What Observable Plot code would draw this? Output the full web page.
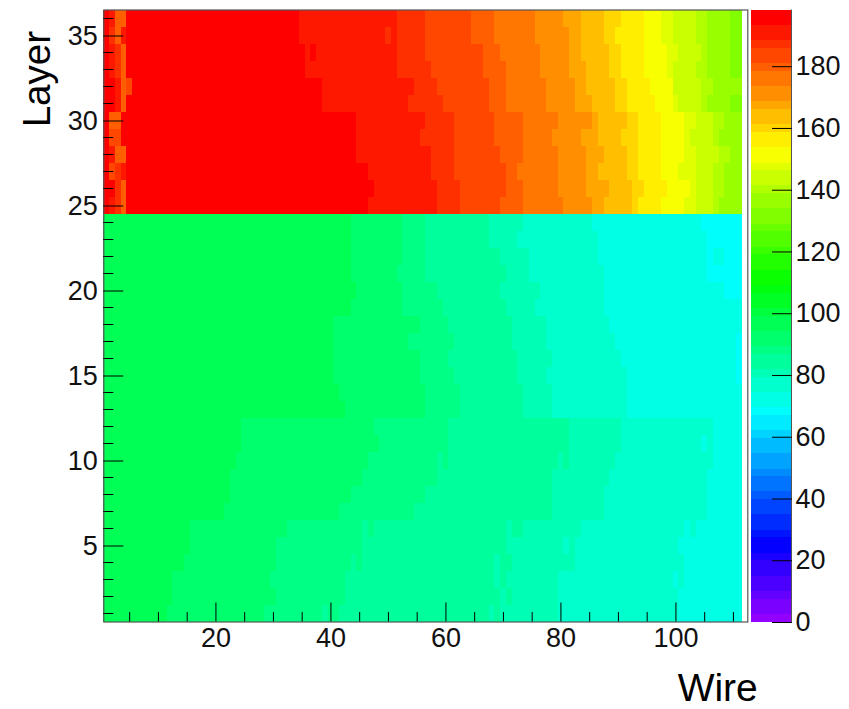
<!DOCTYPE html>
<html><head><meta charset="utf-8">
<script src="https://cdn.jsdelivr.net/npm/d3@7"></script>
<script src="https://cdn.jsdelivr.net/npm/@observablehq/plot@0.6"></script>
<style>html,body{margin:0;padding:0;background:#fff}#wrap{position:relative;width:849px;height:709px;overflow:hidden}#wrap svg{position:absolute;top:0}</style>
</head><body><div id="wrap"></div>
<script>
// Each layer: flat pairs of (first wire of a run, value of that run); a run lasts until the next one, the last until wire 111.
const layer36=[1,196,2,191,3,179.5,5,196,35,191,52,187,57,183,65,179.5,69,176,76,171,81,167,84,163.5,88,160,91,156,95,151,98,147.5,100,144,104,140,106,136,110,131];
const layer35=[1,196,2,187,3,179.5,4,191,5,196,35,191,50,187,51,191,52,187,57,183,65,179.5,69,176,76,171,82,167,84,163.5,88,160,90,156,95,151,98,147.5,100,144,104,140,106,136,110,131];
const layer34=[1,196,2,191,3,187,4,179.5,5,196,36,191,37,196,38,191,52,187,57,183,67,179.5,70,176,77,171,82,167,84,163.5,89,160,91,156,95,151,99,147.5,101,144,105,140,106,136,110,131];
const layer33=[1,196,2,191,3,187,4,179.5,5,196,36,191,52,187,58,183,67,179.5,71,176,77,171,82,167,85,163.5,89,160,91,156,95,151,99,147.5,100,144,104,140,106,136,110,131];
const layer32=[1,196,3,191,4,179.5,5,183,6,196,39,191,55,187,59,183,68,179.5,71,176,78,171,83,167,85,163.5,90,160,92,156,96,151,100,144,105,140,107,136];
const layer31=[1,196,3,191,4,179.5,5,196,39,191,54,187,60,183,68,179.5,71,176,78,171,83,167,86,163.5,90,160,92,156,97,151,100,147.5,101,144,105,140,106,136,110,131];
const layer30=[1,196,2,179.5,4,196,45,191,57,187,62,183,69,179.5,74,176,80,171,86,167,87,163.5,92,160,94,156,98,151,102,147.5,104,144,107,140,109,136];
const layer29=[1,196,2,183,4,196,45,191,56,187,62,183,69,179.5,74,176,79,171,84,167,87,163.5,91,160,94,156,98,151,102,147.5,103,144,107,140,108,136];
const layer28=[1,196,2,191,3,179.5,5,196,45,191,58,187,62,183,70,179.5,74,176,80,171,85,167,88,163.5,92,160,94,156,98,151,102,147.5,104,144,108,140,110,136];
const layer27=[1,196,2,183,3,187,4,191,5,196,47,191,58,187,62,183,71,179.5,73,176,80,171,85,167,87,163.5,92,160,94,156,98,151,101,147.5,104,144,107,140,109,136];
const layer26=[1,196,3,187,4,179.5,5,196,48,191,59,187,63,183,71,179.5,74,176,80,171,85,167,89,163.5,93,160,95,156,99,151,103,147.5,104,144,107,140,109,136];
const layer25=[1,196,2,191,3,187,4,179.5,5,196,47,191,59,187,63,183,70,179.5,74,176,81,171,86,167,88,163.5,93,160,94,156,98,151,102,147.5,104,144,107,140,108,136];
const layer24=[1,96.5,44,91.5,53,88,57,84,68,80.5,74,77,86,72,105,68];
const layer23=[1,96.5,44,91.5,53,88,57,84,68,80.5,73,77,87,72,106,68];
const layer22=[1,96.5,44,91.5,53,88,57,84,70,80.5,75,77,87,72,106,68,107,72,109,68];
const layer21=[1,96.5,44,91.5,52,88,57,84,71,80.5,75,77,88,72,106,68];
const layer20=[1,96.5,45,91.5,53,88,59,84,70,80.5,77,77,88,72,109,68];
const layer19=[1,96.5,44,91.5,53,88,60,84,71,80.5,76,77,88,72];
const layer18=[1,96.5,41,91.5,56,88,61,84,72,80.5,78,77,89,72];
const layer17=[1,96.5,41,91.5,54,88,62,84,72,80.5,78,77,90,72,111,68];
const layer16=[1,96.5,41,91.5,56,88,61,84,73,80.5,79,77,91,72,111,68];
const layer15=[1,96.5,41,91.5,56,88,62,84,73,80.5,78,77,92,72,111,68];
const layer14=[1,96.5,42,91.5,57,88,63,84,74,80.5,79,77,92,72];
const layer13=[1,96.5,43,91.5,57,88,63,84,74,80.5,79,77,92,72];
const layer12=[1,96.5,25,91.5,48,88,61,84,82,80.5,91,77,107,72];
const layer11=[1,96.5,25,91.5,49,88,61,84,82,80.5,91,77,105,72,106,77,107,72];
const layer10=[1,96.5,24,91.5,47,88,59,84,60,88,61,84,80,80.5,81,84,82,80.5,90,77,107,72];
const layer9=[1,96.5,23,91.5,46,88,59,84,79,80.5,89,77,106,72];
const layer8=[1,96.5,23,91.5,44,88,57,84,79,80.5,88,77,106,72];
const layer7=[1,96.5,22,91.5,42,88,55,84,79,80.5,88,77,106,72];
const layer6=[1,96.5,16,91.5,33,88,46,84,47,88,48,84,71,80.5,72,84,74,80.5,84,77,102,72,103,77,104,72];
const layer5=[1,96.5,16,91.5,31,88,46,84,71,80.5,81,77,82,80.5,83,77,101,72];
const layer4=[1,96.5,15,91.5,31,88,44,84,45,88,46,84,69,80.5,70,84,72,80.5,83,77,102,72];
const layer3=[1,96.5,13,91.5,30,88,43,84,69,80.5,70,84,71,80.5,80,77,100,72,101,77,102,72];
const layer2=[1,96.5,13,91.5,31,88,43,84,70,80.5,71,84,72,80.5,80,77,101,72];
const layer1=[1,96.5,12,91.5,29,88,39,84,40,88,42,84,68,80.5,69,84,70,80.5,80,77,101,72];
const layers=[layer1,layer2,layer3,layer4,layer5,layer6,layer7,layer8,layer9,layer10,layer11,layer12,layer13,layer14,layer15,layer16,layer17,layer18,layer19,layer20,layer21,layer22,layer23,layer24,layer25,layer26,layer27,layer28,layer29,layer30,layer31,layer32,layer33,layer34,layer35,layer36];

const lastWire=111, zMax=198.2, nContours=80, nColors=50;
const wireMajor=[20,40,60,80,100];
const wireMinor=[5,10,15,25,30,35,45,50,55,65,70,75,85,90,95,105,110];
const layerMajor=[5,10,15,20,25,30,35];
const layerMinor=[1,2,3,4,6,7,8,9,11,12,13,14,16,17,18,19,21,22,23,24,26,27,28,29,31,32,33,34,36];
const zTicks=[0,20,40,60,80,100,120,140,160,180];

// Runs table for the library
const runs=[];
layers.forEach((row,i)=>{
  for(let j=0;j<row.length;j+=2){
    const next=j+2<row.length?row[j+2]:lastWire+1;
    runs.push({layer:i+1,first:row[j],last:next-1,value:row[j+1]});
  }
});
// ROOT "pretty" palette: 50 hues shared by 80 contours
const step=zMax/nContours;
const edges=d3.range(1,nContours).map(k=>k*step);
const colors=d3.range(nContours).map(k=>{
  const c=Math.floor((k+0.99)*nColors/nContours);
  return d3.hsl(280-(c+1)*5.6,1,0.5).formatHex();
});
const bands=d3.range(nContours).map(k=>({lo:k*step,hi:(k+1)*step,mid:(k+0.5)*step}));
const colorScale={type:"threshold",domain:edges,range:colors};
const font="'Liberation Sans',Arial,sans-serif";
const tickColor="#000", frameColor="#555";

const main=Plot.plot({
  width:849,height:709,
  marginLeft:103.3,marginRight:101.7,marginTop:9.5,marginBottom:87.5,
  style:{fontFamily:font,background:"transparent"},
  x:{domain:[0.5,112.5]},
  y:{domain:[0.5,36.5]},
  color:colorScale,
  marks:[
    Plot.rect(runs,{x1:d=>d.first-0.5,x2:d=>d.last+0.5,y1:d=>d.layer-0.5,y2:d=>d.layer+0.5,fill:"value",shapeRendering:"crispEdges"}),
    Plot.frame({stroke:frameColor,strokeWidth:1.2}),
    Plot.axisX({ticks:wireMinor,tickSize:-9.5,fill:"none",label:null,stroke:tickColor}),
    Plot.axisX({ticks:wireMajor,tickSize:-19,tickPadding:25,fontSize:27,label:null,stroke:tickColor,fill:"#111"}),
    Plot.axisY({ticks:layerMinor,tickSize:-10,fill:"none",label:null,stroke:tickColor}),
    Plot.axisY({ticks:layerMajor,tickSize:-20,tickPadding:26,fontSize:27,dy:0.5,label:null,stroke:tickColor,fill:"#111"}),
    Plot.text(["Wire"],{frameAnchor:"bottom-right",lineAnchor:"bottom",dx:10,dy:79,fontSize:39,fill:"#000"}),
    Plot.text(["Layer"],{frameAnchor:"top-left",rotate:-90,textAnchor:"end",lineAnchor:"bottom",dx:-54,dy:21,fontSize:38.5,fill:"#000"})
  ]
});

const bar=Plot.plot({
  width:100,height:709,
  marginLeft:2,marginRight:58,marginTop:9.5,marginBottom:87.5,
  style:{fontFamily:font,background:"transparent",overflow:"visible"},
  y:{domain:[0,zMax]},
  color:colorScale,
  marks:[
    Plot.rect(bands,{y1:"lo",y2:"hi",fill:"mid",shapeRendering:"crispEdges"}),
    Plot.frame({anchor:"right",stroke:frameColor}),
    Plot.axisY({anchor:"right",ticks:zTicks,tickSize:-20,tickPadding:24,fontSize:27,dy:0.5,label:null,stroke:tickColor,fill:"#111"})
  ]
});
bar.style.left="749px";
const wrap=document.getElementById("wrap");
main.style.left="0px";
wrap.append(main,bar);
</script></body></html>
